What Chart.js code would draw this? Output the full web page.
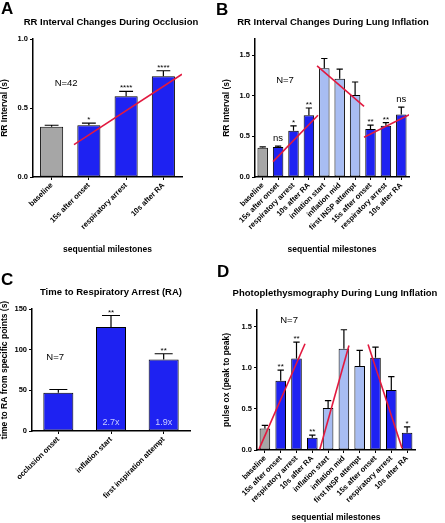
<!DOCTYPE html>
<html><head><meta charset="utf-8">
<script src="https://cdn.jsdelivr.net/npm/chart.js@4/dist/chart.umd.min.js"></script>
<style>
body{margin:0;background:#fff;}
#wrap{position:relative;width:445px;height:523px;overflow:hidden;font-family:"Liberation Sans",Arial,sans-serif;background:#fff;}
canvas{position:absolute;}
.lbl{position:absolute;font-weight:bold;color:#000;white-space:nowrap;line-height:1;}
.letter{font-size:17px;}
.title{font-size:9.5px;transform:translateX(-50%);}
</style></head><body>
<div id="wrap">
  <canvas id="cA" width="222" height="260" style="left:0;top:0"></canvas>
  <canvas id="cB" width="223" height="260" style="left:222px;top:0"></canvas>
  <canvas id="cC" width="222" height="263" style="left:0;top:260px"></canvas>
  <canvas id="cD" width="223" height="263" style="left:222px;top:260px"></canvas>
  <div class="lbl letter" style="left:1px;top:0px">A</div>
  <div class="lbl letter" style="left:216px;top:1px">B</div>
  <div class="lbl letter" style="left:1px;top:271px">C</div>
  <div class="lbl letter" style="left:217px;top:263px">D</div>
  <div class="lbl title" style="left:111px;top:17px">RR Interval Changes During Occlusion</div>
  <div class="lbl title" style="left:333px;top:17px">RR Interval Changes During Lung Inflation</div>
  <div class="lbl title" style="left:111px;top:287px">Time to Respiratory Arrest (RA)</div>
  <div class="lbl title" style="left:335px;top:288px">Photoplethysmography During Lung Inflation</div>
</div>
<script>
// ---------- DATA ----------
// Panel A
const catsA = ['baseline','15s after onset','respiratory arrest','10s after RA'];
const groupA = ['base','occ','occ','occ'];
const valsA = [0.365, 0.375, 0.585, 0.73];
const semA  = [0.01, 0.015, 0.035, 0.04];
const sigA  = ['', '*', '****', '****'];
const trendA = [{x:0.6, y:0.235},{x:3.5, y:0.745}];

// Panel B
const catsB = ['baseline','15s after onset','respiratory arrest','10s after RA','inflation start','inflation mid','first INSP attempt','15s after onset','respiratory arrest','10s after RA'];
const groupB = ['base','occ','occ','occ','infl','infl','infl','occ','occ','occ'];
const valsB = [0.36, 0.37, 0.57, 0.76, 1.34, 1.21, 1.01, 0.59, 0.63, 0.77];
const semB  = [0.01, 0.01, 0.06, 0.09, 0.12, 0.12, 0.16, 0.05, 0.04, 0.09];
const sigB  = ['', 'ns', '*', '**', '', '', '', '**', '**', 'ns'];
const trendB1 = [{x:0.67, y:0.19},{x:3.59, y:0.76}];
const trendB2 = [{x:3.53, y:1.37},{x:6.58, y:0.87}];
const trendB3 = [{x:6.58, y:0.49},{x:9.56, y:0.77}];

// Panel C
const catsC = ['occlusion onset','inflation start','first inspiration attempt'];
const groupC = ['occ','occ','occ'];
const valsC = [47, 128, 88];
const semC  = [4, 14, 7];
const sigC  = ['', '**', '**'];
const foldC = ['', '2.7x', '1.9x'];

// Panel D
const catsD = catsB;
const groupD = ['base','occ','occ','occ','infl','infl','infl','occ','occ','occ'];
const valsD = [0.26, 0.84, 1.11, 0.15, 0.51, 1.23, 1.02, 1.12, 0.73, 0.21];
const semD  = [0.04, 0.13, 0.20, 0.03, 0.09, 0.23, 0.19, 0.13, 0.16, 0.07];
const sigD  = ['', '**', '**', '**', '', '', '', '', '', '*'];
const trendD1 = [{x:-0.37, y:0.01},{x:2.54, y:1.29}];
const trendD2 = [{x:3.48, y:0.01},{x:5.32, y:1.27}];
const trendD3 = [{x:6.53, y:1.28},{x:8.68, y:0.02}];

// ---------- STYLE ----------
const F = '"Liberation Sans", Arial, sans-serif';
const COL = {base:'#a6a6a6', occ:'#1e22f2', infl:'#a8bdf3'};
const RED = '#e2193f';

const annot = {
  id:'annot',
  afterDatasetDraw(chart, args){
    if (args.meta.type !== 'bar') return;
    const o = chart.options.plugins.annot;
    const y = chart.scales.y, ctx = chart.ctx;
    ctx.save();
    ctx.strokeStyle = '#000'; ctx.lineWidth = 1.2;
    args.meta.data.forEach((bar, i) => {
      const yb = y.getPixelForValue(o.vals[i]);
      const yt = y.getPixelForValue(o.vals[i] + o.sem[i]);
      const hw = bar.width * 0.3;
      ctx.beginPath();
      ctx.moveTo(bar.x, yb); ctx.lineTo(bar.x, yt);
      ctx.moveTo(bar.x - hw, yt); ctx.lineTo(bar.x + hw, yt);
      ctx.stroke();
    });
    ctx.restore();
  },
  afterDraw(chart){
    const o = chart.options.plugins.annot;
    const y = chart.scales.y, xl = chart.scales.xl, ctx = chart.ctx;
    const meta = chart.getDatasetMeta(chart.data.datasets.length - 1);
    ctx.save();
    ctx.fillStyle = '#000'; ctx.textAlign = 'center';
    meta.data.forEach((bar, i) => {
      const s = o.sig[i]; if (!s) return;
      const yt = y.getPixelForValue(o.vals[i] + o.sem[i]);
      if (s.startsWith('*')) { ctx.font = '8px ' + F; ctx.textBaseline = 'alphabetic'; ctx.fillText(s, bar.x, yt - 1); }
      else { ctx.font = '9.5px ' + F; ctx.textBaseline = 'alphabetic'; ctx.fillText(s, bar.x, yt - 5); }
    });
    if (o.n) {
      ctx.font = '9.5px ' + F; ctx.textBaseline = 'middle';
      ctx.fillText(o.n.text, xl.getPixelForValue(o.n.x), y.getPixelForValue(o.n.y));
    }
    if (o.fold) {
      ctx.font = '9px ' + F; ctx.fillStyle = '#c9cdff'; ctx.textBaseline = 'middle';
      meta.data.forEach((bar, i) => { if (o.fold[i]) ctx.fillText(o.fold[i], bar.x, y.getPixelForValue(o.foldY)); });
    }
    ctx.restore();
  }
};

function yAxis(max, step, dec, title, width){
  return {
    min:0, max:max,
    afterBuildTicks(s){ s.ticks = s.ticks.filter(t => Math.abs(t.value/step - Math.round(t.value/step)) < 1e-6); },
    ticks:{stepSize:step, font:{size:7.5, weight:'bold', family:F}, color:'#000', padding:2, callback:v => Number(v).toFixed(dec)},
    grid:{display:true, drawOnChartArea:false, drawTicks:true, tickLength:3, color:'#000', lineWidth:1},
    border:{display:true, color:'#000', width:1.5},
    title:{display:true, text:title, font:{size:8.5, weight:'bold', family:F}, color:'#000', padding:{top:0, bottom:2}},
    afterFit(s){ s.width = width; }
  };
}
function xAxis(title, height){
  return {
    type:'category', offset:true,
    grid:{display:true, offset:false, drawOnChartArea:false, drawTicks:true, tickLength:3, color:'#000', lineWidth:1},
    border:{display:true, color:'#000', width:1.5},
    ticks:{minRotation:45, maxRotation:45, autoSkip:false, font:{size:7.5, weight:'bold', family:F}, color:'#000', padding:1},
    title:{display:!!title, text:title || '', font:{size:8.5, weight:'bold', family:F}, color:'#000', padding:{top:0, bottom:0}},
    afterFit(s){ s.height = height; }
  };
}
function makeChart(id, cats, groups, vals, sem, trends, opts){
  const n = cats.length;
  const datasets = trends.map(t => ({
    type:'line', data:t, xAxisID:'xl', yAxisID:'y', borderColor:RED, borderWidth:1.6,
    pointRadius:0, fill:false, tension:0, order:0
  }));
  datasets.push({
    type:'bar', data:vals, xAxisID:'x', yAxisID:'y', grouped:false,
    backgroundColor:groups.map(g => COL[g]), borderColor:'#000', borderWidth:1, borderSkipped:false,
    categoryPercentage:1, barPercentage:opts.barPct, order:1
  });
  return new Chart(document.getElementById(id), {
    type:'bar',
    data:{labels:cats, datasets},
    options:{
      responsive:false, animation:false, events:[],
      layout:{autoPadding:false, padding:opts.pad},
      plugins:{legend:{display:false}, tooltip:{enabled:false},
        annot:{vals, sem, sig:opts.sig, n:opts.n, fold:opts.fold, foldY:opts.foldY}},
      scales:{
        x:xAxis(opts.xTitle, opts.xH),
        xl:{type:'linear', display:false, offset:false, grid:{offset:false}, min:-0.5, max:n-0.5},
        y:yAxis(opts.max, opts.step, opts.dec, opts.yTitle, opts.yW)
      }
    },
    plugins:[annot]
  });
}

makeChart('cA', catsA, groupA, valsA, semA, [trendA], {
  barPct:0.62, pad:{top:39, left:0, right:40, bottom:5}, xH:78, yW:33,
  max:1.0, step:0.5, dec:1, yTitle:'RR Interval (s)', xTitle:'sequential milestones',
  sig:sigA, n:{text:'N=42', x:0.39, y:0.68}
});
makeChart('cB', catsB, groupB, valsB, semB, [trendB1, trendB2, trendB3], {
  barPct:0.68, pad:{top:39, left:0, right:36, bottom:5}, xH:78, yW:33,
  max:1.7, step:0.5, dec:1, yTitle:'RR Interval (s)', xTitle:'sequential milestones',
  sig:sigB, n:{text:'N=7', x:1.45, y:1.19}
});
makeChart('cC', catsC, groupC, valsC, semC, [], {
  barPct:0.57, pad:{top:49, left:0, right:32, bottom:0}, xH:92, yW:32,
  max:150, step:50, dec:0, yTitle:'time to RA from specific points (s)', xTitle:'',
  sig:sigC, n:{text:'N=7', x:-0.06, y:90}, fold:foldC, foldY:11
});
makeChart('cD', catsD, groupD, valsD, semD, [trendD1, trendD2, trendD3], {
  barPct:0.67, pad:{top:50, left:0, right:30, bottom:0}, xH:73, yW:35,
  max:1.7, step:0.5, dec:1, yTitle:'pulse ox (peak to peak)', xTitle:'sequential milestones',
  sig:sigD, n:{text:'N=7', x:1.53, y:1.58}
});
</script>
</body></html>
